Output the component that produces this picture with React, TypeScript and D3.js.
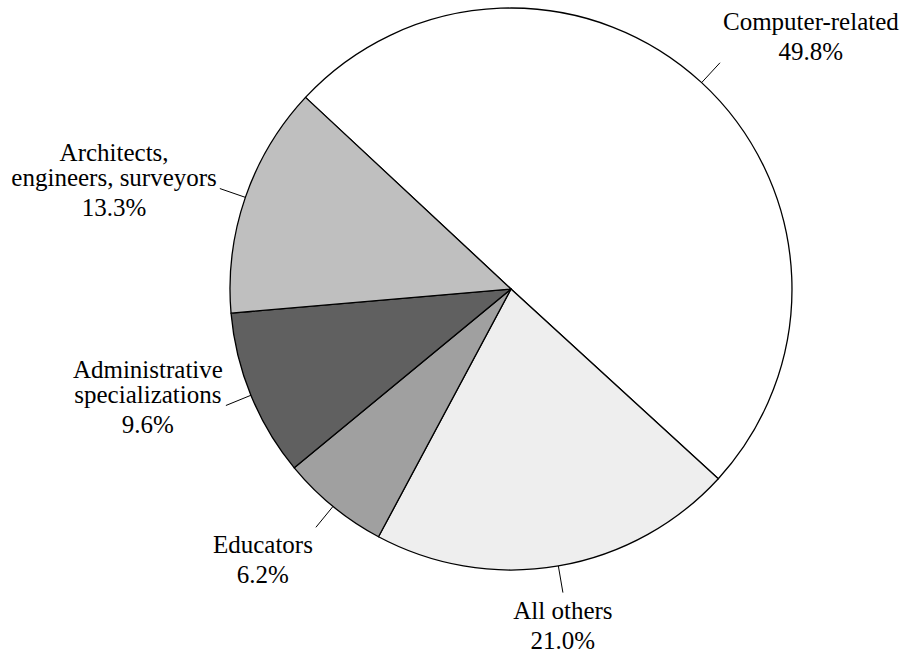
import React from "react";
import * as d3 from "d3";

const categories = [
  "Computer-related",
  "All others",
  "Educators",
  "Administrative specializations",
  "Architects, engineers, surveyors",
];
const labelLines = [
  ["Computer-related"],
  ["All others"],
  ["Educators"],
  ["Administrative", "specializations"],
  ["Architects,", "engineers, surveyors"],
];
const values = [49.8, 21.0, 6.2, 9.6, 13.3];
const colors = ["#ffffff", "#eeeeee", "#a0a0a0", "#606060", "#bfbfbf"];

const W = 901;
const H = 651;
const FONT = "'Liberation Serif', 'Times New Roman', Times, serif";
const FONT_SIZE = 25;

let ctx: CanvasRenderingContext2D | null = null;
function measure(text: string): number {
  if (!ctx) {
    const c = document.createElement("canvas");
    ctx = c.getContext("2d");
  }
  if (!ctx) return text.length * FONT_SIZE * 0.45;
  ctx.font = `${FONT_SIZE}px ${FONT}`;
  return ctx.measureText(text).width;
}

export default function App() {
  const cx = 511;
  const cy = 289;
  const r = 281;
  const leader = 27;
  const start = (-47 * Math.PI) / 180;

  const data = categories.map((c, i) => ({ name: c, value: values[i], lines: labelLines[i], color: colors[i] }));
  const pie = d3
    .pie<any>()
    .sort(null)
    .value((d: any) => d.value)
    .startAngle(start)
    .endAngle(start + 2 * Math.PI);
  const arcs = pie(data);
  const arc = d3.arc<any>().innerRadius(0).outerRadius(r);

  const nameGap = 25;
  const pctGap = 30;
  const capH = 16;

  const labels = arcs.map((a: any) => {
    const mid = (a.startAngle + a.endAngle) / 2;
    const s = Math.sin(mid);
    const c = -Math.cos(mid);
    const x0 = cx + r * s;
    const y0 = cy + r * c;
    const x1 = cx + (r + leader) * s;
    const y1 = cy + (r + leader) * c;
    const lines: string[] = [...a.data.lines, a.data.value.toFixed(1) + "%"];
    const baselines: number[] = [];
    let b = 0;
    lines.forEach((_, i) => {
      if (i > 0) b += i === lines.length - 1 ? pctGap : nameGap;
      baselines.push(b);
    });
    const w = Math.max(...lines.map(measure));
    const gap = 3;
    let tx = x1;
    if (s > 0.5) tx = x1 + gap + w / 2;
    else if (s < -0.5) tx = x1 - gap - w / 2;
    const last = baselines[baselines.length - 1];
    let ty: number;
    if (c < -0.5) ty = y1 - 3 - last;
    else if (c > 0.5) ty = y1 + 26;
    else ty = y1 - 8 - (-capH + last) / 2;
    return { key: a.data.name, x0, y0, x1, y1, tx, ty, lines, baselines };
  });

  return (
    <svg
      width={W}
      height={H}
      fontFamily={FONT}
      style={{ position: "absolute", left: 0, top: 0, background: "#fff", fontFamily: FONT }}
    >
      <g transform={`translate(${cx},${cy})`}>
        {arcs.map((a: any) => (
          <path
            key={a.data.name}
            d={arc(a) || ""}
            fill={a.data.color}
            stroke="#000"
            strokeWidth={1.3}
            strokeLinejoin="round"
          />
        ))}
      </g>
      {labels.map((l) => (
        <g key={l.key}>
          <line x1={l.x0} y1={l.y0} x2={l.x1} y2={l.y1} stroke="#000" strokeWidth={1} />
          {l.lines.map((ln, i) => (
            <text
              key={i}
              x={l.tx}
              y={l.ty + l.baselines[i]}
              textAnchor="middle"
              fill="#000"
              style={{ fontFamily: FONT, fontSize: `${FONT_SIZE}px` }}
            >
              {ln}
            </text>
          ))}
        </g>
      ))}
    </svg>
  );
}
